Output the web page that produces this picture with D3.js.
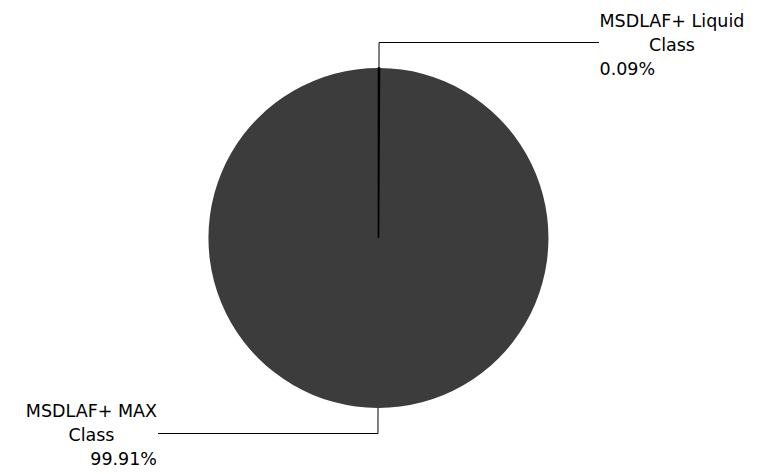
<!DOCTYPE html>
<html>
<head>
<meta charset="utf-8">
<script src="https://cdn.jsdelivr.net/npm/d3@7"></script>
<style>
	body { margin: 0; background: #fff; }
	text { font-family: "DejaVu Sans", Verdana, sans-serif; font-size: 17.5px; fill: #000; }
</style>
</head>
<body>
<div id="chart"></div>
<script>
'use strict';

// Slice names and shares (percent)
const categories = ['MSDLAF+ Liquid Class', 'MSDLAF+ MAX Class'];
const shares = [0.09, 99.91];
const sliceColors = ['#000000', '#3c3c3c'];

const width = 772, height = 474;
const cx = 378.5, cy = 238, radius = 170;

const svg = d3.select('#chart').append('svg')
	.attr('width', width)
	.attr('height', height);

const g = svg.append('g')
	.attr('transform', 'translate(' + cx + ',' + cy + ')');

const pie = d3.pie().sort(null).value(d => d.val);
const arcs = pie(categories.map((name, i) => ({ name: name, val: shares[i], color: sliceColors[i] })));

const arc = d3.arc().innerRadius(0).outerRadius(radius);
const elbowArc = d3.arc().innerRadius(radius + 25.5).outerRadius(radius + 25.5);
const edgeArc = d3.arc().innerRadius(radius).outerRadius(radius);

g.selectAll('path.slice')
	.data(arcs)
	.enter()
	.append('path')
	.attr('class', 'slice')
	.attr('d', arc)
	.attr('fill', d => d.data.color)
	.attr('stroke', d => d.data.val < 1 ? d.data.color : 'none')
	.attr('stroke-width', 1.6)
	.filter(d => d.data.val < 1)
	.raise();   // thin slices go on top so their outline is not covered

const fmt = d3.format('.2f');

arcs.forEach(d => {
	let mid = (d.startAngle + d.endAngle) / 2;
	let right = Math.sin(mid) >= 0;
	let p0 = edgeArc.centroid(d);
	let p1 = elbowArc.centroid(d);
	let lx = right ? 220.5 : -220.5;

	g.append('polyline')
		.attr('points', [p0, p1, [lx, p1[1]]].map(p => p.join(',')).join(' '))
		.attr('fill', 'none')
		.attr('stroke', '#000')
		.attr('stroke-width', 1);

	let words = d.data.name.split(' ');
	let line1 = words.slice(0, -1).join(' ');
	let line2 = words[words.length - 1];
	let tx = right ? lx + 0.5 : lx - 1;

	let t1 = g.append('text')
		.attr('x', tx)
		.attr('y', p1[1] - 16)
		.attr('text-anchor', right ? 'start' : 'end')
		.text(line1);
	let w1 = t1.node().getComputedTextLength();

	g.append('text')
		.attr('x', right ? tx + w1 / 2 : tx - w1 / 2)
		.attr('y', p1[1] + 8)
		.attr('text-anchor', 'middle')
		.text(line2);

	g.append('text')
		.attr('x', tx)
		.attr('y', p1[1] + 32)
		.attr('text-anchor', right ? 'start' : 'end')
		.text(fmt(d.data.val) + '%');
});
</script>
</body>
</html>
